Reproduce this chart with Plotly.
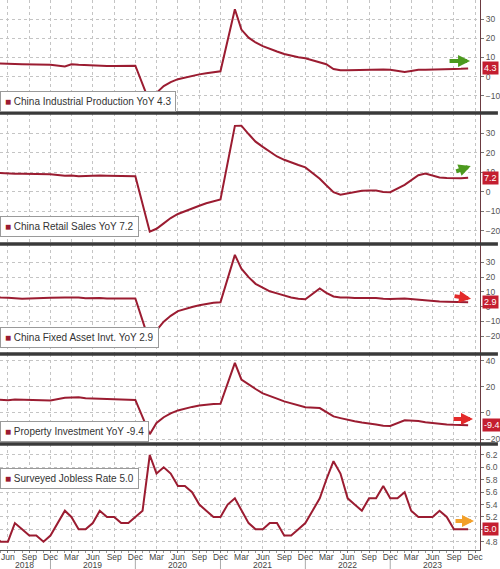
import pandas as pd
import plotly.graph_objects as go
from plotly.subplots import make_subplots

# ---------------- data ----------------
months = [d.strftime("%Y-%m-%d") for d in pd.date_range("2018-04-01", "2023-11-01", freq="MS")]

ind_prod = [6.9, 6.9, 6.7, 6.6, 6.5, 6.4, 6.4, 6.3, 6.2,
            None, 5.3, 6.5, 6.2, 6.0, 6.0, 5.8, 5.6, 5.6, 5.6, 5.6, 5.7,
            None, -13.5, -8.4, -4.9, -2.8, -1.3, -0.4, 0.4, 1.2, 1.8, 2.3, 2.8,
            None, 35.1, 24.5, 20.3, 17.8, 15.9, 14.4, 13.1, 11.8, 10.9, 10.1, 9.6,
            None, 7.5, 6.5, 4.0, 3.3, 3.4, 3.5, 3.6, 3.9, 4.0, 3.8, 3.6,
            None, 2.4, 3.0, 3.6, 3.6, 3.8, 3.8, 3.9, 4.0, 4.1, 4.3]

retail = [9.7, 9.5, 9.4, 9.3, 9.3, 9.3, 9.2, 9.1, 9.0,
          None, 8.2, 8.3, 8.0, 8.1, 8.4, 8.3, 8.2, 8.2, 8.1, 8.0, 8.0,
          None, -20.5, -19.0, -16.2, -13.5, -11.4, -9.9, -8.6, -7.2, -5.9, -4.8, -3.9,
          None, 33.8, 33.9, 29.6, 25.7, 23.0, 20.7, 18.1, 16.4, 14.9, 13.7, 12.5,
          None, 6.7, 3.3, -0.2, -1.5, -0.7, -0.2, 0.5, 0.7, 0.6, -0.1, -0.2,
          None, 3.5, 5.8, 8.5, 9.3, 8.2, 7.3, 7.0, 6.8, 6.9, 7.2]

fai = [7.0, 6.1, 6.0, 5.5, 5.3, 5.4, 5.7, 5.9, 5.9,
       None, 6.1, 6.3, 6.1, 5.6, 5.8, 5.7, 5.5, 5.4, 5.2, 5.2, 5.4,
       None, -24.5, -16.1, -10.3, -6.3, -3.1, -1.6, -0.3, 0.8, 1.8, 2.6, 2.9,
       None, 35.0, 25.6, 19.9, 15.4, 12.6, 10.3, 8.9, 7.3, 6.1, 5.2, 4.9,
       None, 12.2, 9.3, 6.8, 6.2, 6.1, 5.7, 5.8, 5.9, 5.8, 5.3, 5.1,
       None, 5.5, 5.1, 4.7, 4.0, 3.8, 3.4, 3.2, 3.1, 2.9, 2.9]

property_inv = [10.3, 10.2, 9.7, 10.2, 10.1, 9.9, 9.7, 9.7, 9.5,
                None, 11.6, 11.8, 11.9, 11.2, 10.9, 10.6, 10.5, 10.5, 10.3, 10.2, 9.9,
                None, -16.3, -7.7, -3.3, -0.3, 1.9, 3.4, 4.6, 5.6, 6.3, 6.8, 7.0,
                None, 38.3, 25.6, 21.6, 18.3, 15.0, 12.7, 10.9, 8.8, 7.2, 6.0, 4.4,
                None, 3.7, 0.7, -2.7, -4.0, -5.4, -6.4, -7.4, -8.0, -8.8, -9.8, -10.0,
                None, -5.7, -5.8, -6.2, -7.2, -7.9, -8.5, -8.8, -9.1, -9.3, -9.4]

jobless = [4.9, 4.8, 4.8, 5.1, 5.0, 4.9, 4.9, 4.8, 4.9,
           5.1, 5.3, 5.2, 5.0, 5.0, 5.1, 5.3, 5.2, 5.2, 5.1, 5.1, 5.2,
           5.3, 6.2, 5.9, 6.0, 5.9, 5.7, 5.7, 5.6, 5.4, 5.3, 5.2, 5.2,
           5.4, 5.5, 5.3, 5.1, 5.0, 5.0, 5.1, 5.1, 4.9, 4.9, 5.0, 5.1,
           5.3, 5.5, 5.8, 6.1, 5.9, 5.5, 5.4, 5.3, 5.5, 5.5, 5.7, 5.5,
           5.5, 5.6, 5.3, 5.2, 5.2, 5.2, 5.3, 5.2, 5.0, 5.0, 5.0]

series_names = ["China Industrial Production YoY", "China Retail Sales YoY",
                "China Fixed Asset Invt. YoY", "Property Investment YoY",
                "Surveyed Jobless Rate"]
series_values = [ind_prod, retail, fai, property_inv, jobless]

x_tick_vals = [d.strftime("%Y-%m-%d") for d in pd.date_range("2018-06-01", "2023-12-01", freq="3MS")]
x_tick_text = [pd.Timestamp(d).strftime("%b") for d in x_tick_vals]
year_labels = ["2018", "2019", "2020", "2021", "2022", "2023"]
year_label_pos = ["2018-08-12", "2019-06-01", "2020-06-01", "2021-06-01", "2022-06-01", "2023-06-01"]
year_separators = ["2018-12-01", "2019-12-01", "2020-12-01", "2021-12-01", "2022-12-01"]

y_ranges = [[-18.9, 39.9], [-26.8, 40.4], [-32.2, 42.4], [-23.8, 45.1], [4.666, 6.377]]
y_ticks = [[-10, 0, 10, 20, 30], [-20, -10, 0, 10, 20, 30], [-20, -10, 0, 10, 20, 30],
           [-20, 0, 20, 40], [4.8, 5.0, 5.2, 5.4, 5.6, 5.8, 6.0, 6.2]]
y_tick_text = [None, None, None, None, ["4.8", "5.0", "5.2", "5.4", "5.6", "5.8", "6.0", "6.2"]]

# trend arrows: (color, tip y value, tail dx px, tail dy px)
arrows = [("#4c9a1e", 8.2, -22, 0), ("#4c9a1e", 13.2, -16, 6), ("#e32a2a", 5.2, -18, -3),
          ("#e32a2a", -4.6, -21, 0), ("#f2a02a", 5.134, -20, 0)]
arrow_tip_x = [472, 472.7, 473, 475, 476]
legend_shift = [("bottom", 1), ("bottom", 7), ("bottom", 6), ("bottom", 2), ("top", -24)]

# ---------------- styling ----------------
W, H = 500, 569
ML, MR, MT, MB = 0, 18, 0, 19
PW = W - ML - MR
PH = H - MT - MB
panel_px = [113, 131, 110, 90, 106]
LINE = "#9b1c31"
BOX = "#c41e30"
FONT = "Liberation Sans, Arial, sans-serif"
GRID = "#c4c4c4"

fig = make_subplots(rows=5, cols=1, shared_xaxes=True, vertical_spacing=0,
                    row_heights=[p / sum(panel_px) for p in panel_px])

for i, (name, vals) in enumerate(zip(series_names, series_values)):
    fig.add_trace(go.Scatter(x=months, y=vals, mode="lines", connectgaps=True,
                             line=dict(color=LINE, width=2), name=name,
                             showlegend=False, hoverinfo="skip"), row=i + 1, col=1)

x_range = ["2018-04-28", "2023-12-22"]
for i in range(5):
    last = i == 4
    fig.update_xaxes(row=i + 1, col=1, type="date", range=x_range,
                     tickvals=x_tick_vals, ticktext=x_tick_text,
                     showgrid=True, gridcolor=GRID, griddash="dot", gridwidth=1,
                     zeroline=False, showline=last, linecolor="#555", linewidth=1,
                     ticks="outside" if last else "", ticklen=2, tickcolor="#777",
                     ticklabelstandoff=-3,
                     tickfont=dict(family=FONT, size=8.5, color="#444"),
                     minor=dict(dtick="M1", ticks="outside" if last else "", ticklen=2,
                                tickcolor="#999", showgrid=False))
    fig.update_yaxes(row=i + 1, col=1, side="right", range=y_ranges[i],
                     tickvals=y_ticks[i], ticktext=y_tick_text[i],
                     showgrid=True, gridcolor=GRID, griddash="dot", gridwidth=1,
                     zeroline=False, showline=True, linecolor="#6b3a40", linewidth=1,
                     ticks="outside", ticklen=3, tickcolor="#777",
                     tickfont=dict(family=FONT, size=8.5, color="#555"))

annotations = []
shapes = []
yrefs = ["y", "y2", "y3", "y4", "y5"]
for i, (name, vals) in enumerate(zip(series_names, series_values)):
    last_val = [v for v in vals if v is not None][-1]
    anchor, shift = legend_shift[i]
    annotations.append(dict(
        xref="paper", x=0, xanchor="left",
        yref=f"{yrefs[i]} domain", y=0 if anchor == "bottom" else 1, yanchor=anchor, yshift=shift,
        text=f'<span style="color:{LINE}">■</span> {name} {last_val:.1f}',
        showarrow=False, bgcolor="white", bordercolor="#9a9a9a", borderwidth=1, borderpad=4,
        font=dict(family=FONT, size=10, color="#333"), align="left"))
    annotations.append(dict(
        xref="paper", x=1, xanchor="left", xshift=2, yref=yrefs[i], y=last_val,
        text=f"{last_val:.1f}", showarrow=False, bgcolor=BOX, borderpad=1,
        font=dict(family=FONT, size=9, color="white")))
    col, yv, dx, dy = arrows[i]
    annotations.append(dict(
        xref="paper", x=arrow_tip_x[i] / PW, yref=yrefs[i], y=yv,
        ax=dx, ay=dy, showarrow=True, arrowhead=2, arrowsize=0.6, arrowwidth=4,
        arrowcolor=col, text="", standoff=0))

for lab, pos in zip(year_labels, year_label_pos):
    annotations.append(dict(xref="x5", x=pos, yref="paper", y=0, yshift=-14.5,
                            yanchor="middle", text=lab, showarrow=False,
                            font=dict(family=FONT, size=8.5, color="#444")))

for sep in year_separators:
    shapes.append(dict(type="line", xref="x5", x0=sep, x1=sep, yref="paper",
                       y0=-10 / PH, y1=-19 / PH, line=dict(color="#aaa", width=1)))

cum = 0
for p in panel_px[:-1]:
    cum += p
    yp = 1 - cum / PH
    shapes.append(dict(type="line", xref="paper", x0=0, x1=W / PW, yref="paper",
                       y0=yp, y1=yp, line=dict(color="#3a3a3a", width=3.5)))

fig.update_layout(width=W, height=H, margin=dict(l=ML, r=MR, t=MT, b=MB),
                  paper_bgcolor="white", plot_bgcolor="white",
                  annotations=annotations, shapes=shapes,
                  font=dict(family=FONT))

fig.write_html("out.html", post_script="document.body.style.margin='0';",
               config={"displayModeBar": False})
